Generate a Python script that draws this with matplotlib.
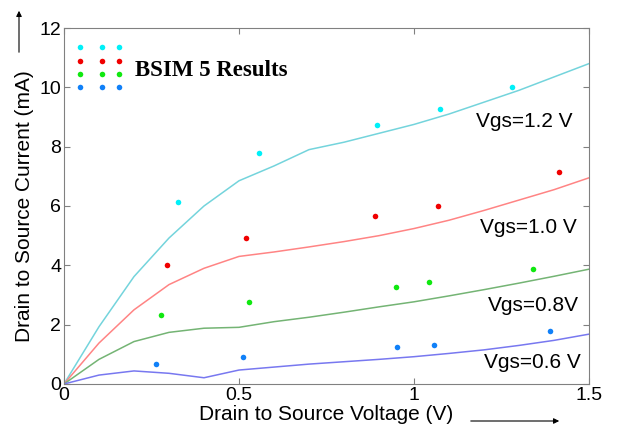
import numpy as np
import matplotlib
matplotlib.use("Agg")
import matplotlib.pyplot as plt

# model curves (lines)
vds = [0.0, 0.1, 0.2, 0.3, 0.4, 0.5, 0.6, 0.7, 0.8, 0.9, 1.0, 1.1, 1.2, 1.3, 1.4, 1.5]
id_12 = [0.0, 1.93, 3.62, 4.92, 6.0, 6.85, 7.35, 7.9, 8.15, 8.45, 8.75, 9.1, 9.5, 9.9, 10.35, 10.8]
id_10 = [0.0, 1.38, 2.5, 3.35, 3.9, 4.3, 4.45, 4.62, 4.8, 5.0, 5.24, 5.52, 5.85, 6.2, 6.55, 6.95]
id_08 = [0.0, 0.83, 1.43, 1.74, 1.88, 1.91, 2.1, 2.25, 2.42, 2.6, 2.77, 2.97, 3.18, 3.4, 3.63, 3.87]
id_06 = [0.0, 0.3, 0.44, 0.36, 0.21, 0.47, 0.57, 0.67, 0.75, 0.83, 0.92, 1.03, 1.15, 1.3, 1.47, 1.68]

# BSIM 5 result points
pts_12_x = [0.326, 0.557, 0.894, 1.074, 1.28]
pts_12_y = [6.14, 7.78, 8.73, 9.27, 10.0]
pts_10_x = [0.295, 0.52, 0.889, 1.07, 1.414]
pts_10_y = [4.01, 4.93, 5.67, 6.0, 7.16]
pts_08_x = [0.278, 0.529, 0.948, 1.042, 1.34]
pts_08_y = [2.32, 2.78, 3.26, 3.44, 3.89]
pts_06_x = [0.263, 0.512, 0.951, 1.056, 1.389]
pts_06_y = [0.66, 0.91, 1.25, 1.33, 1.78]

labels = ["Vgs=1.2 V", "Vgs=1.0 V", "Vgs=0.8V", "Vgs=0.6 V"]
label_x = [1.177, 1.19, 1.21, 1.2]
label_y = [8.86, 5.29, 2.66, 0.74]

legend_x = [0.046, 0.108, 0.158]
legend_y = [11.37, 10.89, 10.45, 10.01]

plt.rcParams["font.family"] = ["Liberation Sans", "DejaVu Sans"]

fig = plt.figure(figsize=(6.17, 4.33), dpi=100)
ax = fig.add_axes([0.1037, 0.1132, 0.8509, 0.8221])

line_cols = ["#74d4dc", "#ff8484", "#74b474", "#7878f0"]
dot_cols = ["#00f0f8", "#f00000", "#10e810", "#1080f8"]
curves = [id_12, id_10, id_08, id_06]
px = [pts_12_x, pts_10_x, pts_08_x, pts_06_x]
py = [pts_12_y, pts_10_y, pts_08_y, pts_06_y]

for i in range(4):
    ax.plot(vds, curves[i], color=line_cols[i], lw=1.1)
    ax.plot(px[i], py[i], "o", color=dot_cols[i], ms=4, mec="none")
    ax.text(label_x[i], label_y[i], labels[i], fontsize=15, va="center")
    ax.plot(legend_x, [legend_y[i]] * 3, "o", color=dot_cols[i], ms=4, mec="none")

ax.text(0.203, 10.56, "BSIM 5 Results", fontsize=16.5, fontweight="bold",
        family="Liberation Serif", va="center")

ax.set_xlim(0, 1.5)
ax.set_ylim(0, 12)
ax.set_xticks([0, 0.5, 1, 1.5])
ax.set_xticklabels(["0", "0.5", "1", "1.5"])
ax.set_yticks([0, 2, 4, 6, 8, 10, 12])
ax.tick_params(direction="in", top=True, right=True, labelsize=14, length=4,
               color="#808080", pad=2)
for s in ax.spines.values():
    s.set_color("#808080")

ax.set_xlabel("Drain to Source Voltage (V)", fontsize=15, labelpad=1)
ax.set_ylabel("Drain to Source Current (mA)", fontsize=15, labelpad=4)

# arrows next to axis labels
fig.patches.append(matplotlib.patches.FancyArrowPatch(
    (468 / 617, 1 - 421 / 433), (562 / 617, 1 - 421 / 433), transform=fig.transFigure,
    arrowstyle="-|>", mutation_scale=8, lw=0.8, color="black"))
fig.patches.append(matplotlib.patches.FancyArrowPatch(
    (19 / 617, 1 - 55 / 433), (19 / 617, 1 - 8 / 433), transform=fig.transFigure,
    arrowstyle="-|>", mutation_scale=8, lw=0.8, color="black"))

fig.savefig("out.png", dpi=100)
